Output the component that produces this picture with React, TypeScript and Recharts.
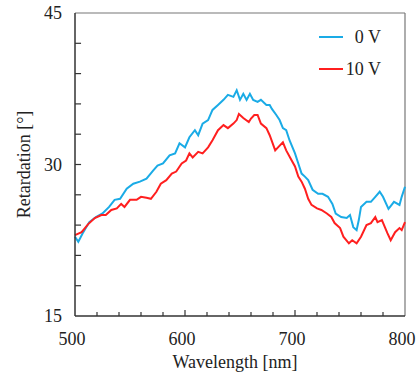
import { LineChart, Line, XAxis, YAxis, ReferenceLine, Legend, Label } from "recharts";

// wavelength [nm] / retardation [deg]
const wl0V = [
  500, 503, 507, 513, 519, 525, 531, 536, 541, 547, 553, 559, 565, 571, 575, 580,
  586, 591, 595, 600, 604, 609, 612, 616, 621, 625, 630, 635, 639, 644, 647, 650,
  653, 656, 659, 662, 666, 669, 674, 677, 679, 683, 686, 689, 692, 695, 700, 703,
  706, 709, 712, 716, 721, 725, 730, 734, 737, 742, 747, 750, 753, 756, 758, 760,
  765, 769, 773, 777, 780, 785, 790, 795, 797, 800,
];
const ret0V = [
  22.85, 22.35, 23.2, 24.3, 24.8, 25.15, 25.8, 26.5, 26.6, 27.6, 28.1, 28.3, 28.6, 29.4, 29.9, 30.1,
  30.9, 31.1, 32.1, 31.7, 32.7, 33.4, 32.9, 34.05, 34.4, 35.4, 35.9, 36.4, 36.9, 36.7, 37.35, 36.4,
  37.0, 36.4, 37.0, 36.4, 36.2, 36.4, 35.9, 35.9, 35.5, 34.9, 34.4, 33.6, 33.4, 32.4, 31.1, 30.1,
  29.1, 28.8, 28.45, 27.5, 27.1, 27.1, 26.8, 26.1, 25.15, 24.8, 24.7, 25.0, 23.8, 23.5, 24.5, 25.8,
  26.3, 26.3, 26.8, 27.3, 26.8, 25.6, 26.3, 26.0, 26.8, 27.8,
];

const wl10V = [
  500, 506, 512, 518, 524, 528, 533, 538, 542, 545, 550, 556, 560, 565, 569, 574,
  578, 583, 588, 592, 597, 601, 604, 607, 612, 616, 621, 625, 630, 635, 639, 644,
  647, 649, 653, 658, 660, 663, 666, 669, 674, 677, 682, 685, 689, 692, 697, 700,
  703, 706, 709, 712, 715, 720, 724, 729, 733, 736, 741, 744, 749, 752, 756, 760,
  765, 769, 773, 775, 779, 784, 787, 791, 795, 797, 800,
];
const ret10V = [
  23.0, 23.3, 24.1, 24.7, 25.0, 25.0, 25.5, 25.65, 26.1, 25.8, 26.5, 26.5, 26.8, 26.7, 26.6, 27.3,
  28.1, 28.45, 29.1, 29.3, 30.1, 30.4, 31.1, 30.7, 31.25, 31.1, 31.7, 32.4, 33.4, 33.9, 33.6, 34.05,
  34.4, 35.0, 34.6, 34.2, 34.55, 34.9, 34.9, 34.05, 33.6, 32.9, 31.4, 31.75, 32.2, 31.4, 30.4, 29.8,
  28.8, 28.3, 27.6, 26.6, 26.0, 25.65, 25.5, 25.15, 24.8, 24.2, 23.7, 22.85, 22.2, 22.5, 22.2, 22.85,
  24.0, 24.2, 24.8, 24.3, 24.5, 23.2, 22.5, 23.3, 23.7, 23.5, 24.3,
];

const xTicks = [500, 520, 540, 560, 580, 600, 620, 640, 660, 680, 700, 720, 740, 760, 780, 800];
const xLabels = [500, 600, 700, 800];
const yTicks = [15, 18, 21, 24, 27, 30, 33, 36, 39, 42, 45];
const yLabels = [15, 30, 45];

const series = [
  { name: "0 V", color: "#1AABE6", data: wl0V.map((w, i) => ({ wl: w, ret: ret0V[i] })) },
  { name: "10 V", color: "#FF1F1F", data: wl10V.map((w, i) => ({ wl: w, ret: ret10V[i] })) },
];

const FONT = "'Liberation Serif', 'Times New Roman', serif";
const AXIS = "#333";

const XTick = (props: any) => {
  const { x, y, payload } = props;
  if (!xLabels.includes(payload.value)) return <g />;
  return (
    <text x={x - 3} y={y + 29} textAnchor="middle" fontFamily={FONT} fontSize={18} fill="#222">
      {payload.value}
    </text>
  );
};

const YTick = (props: any) => {
  const { x, y, payload } = props;
  if (!yLabels.includes(payload.value)) return <g />;
  return (
    <text x={x - 13} y={y + 6} textAnchor="end" fontFamily={FONT} fontSize={18} fill="#222">
      {payload.value}
    </text>
  );
};

const LegendBox = () => (
  <div style={{ fontFamily: FONT, fontSize: 18, color: "#222", width: 62 }}>
    {series.map((s) => (
      <div key={s.name} style={{ display: "flex", alignItems: "center", height: 32 }}>
        <svg width={24} height={4}>
          <line x1={0} x2={24} y1={2} y2={2} stroke={s.color} strokeWidth={2} />
        </svg>
        <span style={{ flex: 1, textAlign: "right" }}>{s.name}</span>
      </div>
    ))}
  </div>
);

export default function App() {
  return (
    <div style={{ position: "absolute", left: 0, top: 0 }}>
      <LineChart width={419} height={374} margin={{ top: 13, right: 14, left: 0, bottom: 0 }}>
        <XAxis
          dataKey="wl"
          type="number"
          domain={[500, 800]}
          ticks={xTicks}
          interval={0}
          height={58}
          tickSize={0}
          tickMargin={0}
          tickLine={false}
          tick={<XTick />}
          axisLine={{ stroke: AXIS, strokeWidth: 1.5 }}
        >
          <Label
            content={(p: any) => {
              const vb = p.viewBox;
              return (
                <text x={vb.x + vb.width / 2 - 5} y={vb.y + 52} textAnchor="middle" fontFamily={FONT} fontSize={18} fill="#222">
                  Wavelength [nm]
                </text>
              );
            }}
          />
        </XAxis>
        <YAxis
          dataKey="ret"
          type="number"
          domain={[15, 45]}
          ticks={yTicks}
          interval={0}
          width={75}
          tickSize={0}
          tickMargin={0}
          tickLine={false}
          tick={<YTick />}
          axisLine={{ stroke: AXIS, strokeWidth: 1.5 }}
        >
          <Label
            content={(p: any) => {
              const vb = p.viewBox;
              const cx = vb.x + 24;
              const cy = vb.y + vb.height / 2;
              return (
                <text x={cx} y={cy} transform={`rotate(-90 ${cx} ${cy})`} textAnchor="middle" dominantBaseline="central" fontFamily={FONT} fontSize={18} fill="#222">
                  Retardation [°]
                </text>
              );
            }}
          />
        </YAxis>

        {/* inward tick marks */}
        {xTicks.slice(1, -1).map((t) => (
          <ReferenceLine
            key={"xt" + t}
            segment={[{ x: t, y: 15 }, { x: t, y: xLabels.includes(t) ? 15.6 : 15.4 }]}
            stroke={AXIS}
            strokeWidth={1.2}
          />
        ))}
        {yTicks.slice(1, -1).map((t) => (
          <ReferenceLine
            key={"yt" + t}
            segment={[{ x: 500, y: t }, { x: 505.5, y: t }]}
            stroke={AXIS}
            strokeWidth={1.2}
          />
        ))}

        <ReferenceLine y={45} stroke="#777" strokeWidth={1.2} />
        <ReferenceLine x={800} stroke="#777" strokeWidth={1.2} />
        {series.map((s) => (
          <Line
            key={s.name}
            data={s.data}
            dataKey="ret"
            name={s.name}
            type="linear"
            stroke={s.color}
            strokeWidth={2}
            dot={false}
            isAnimationActive={false}
          />
        ))}
        <Legend
          layout="vertical"
          align="center"
          verticalAlign="middle"
          content={<LegendBox />}
          wrapperStyle={{ position: "absolute", left: 319, top: 21, width: 62 }}
        />
      </LineChart>
    </div>
  );
}
